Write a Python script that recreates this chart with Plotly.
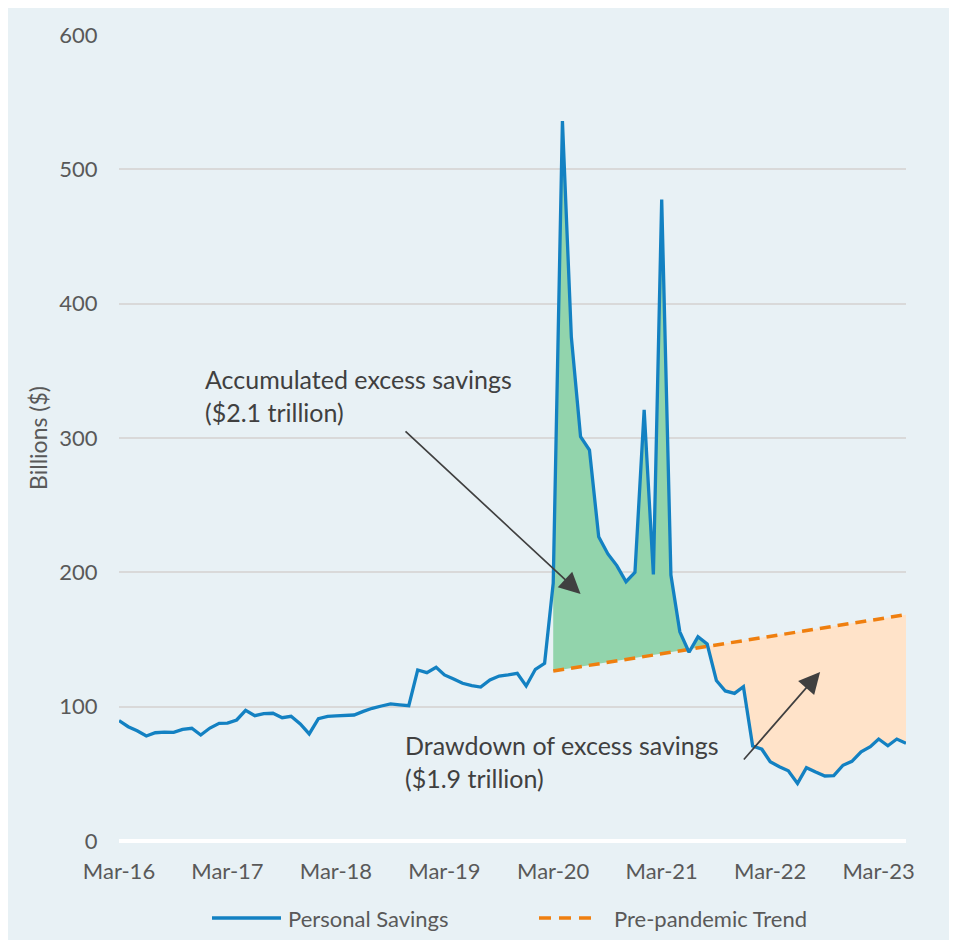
import pandas as pd
import plotly.graph_objects as go

# ---- data ----
months = pd.date_range("2016-03-01", periods=88, freq="MS")

personal_savings = [
    89.6, 85.1, 82.1, 78.2, 80.6, 81.1, 80.9, 83.1, 83.9, 78.9, 84.1, 87.6,
    87.8, 90.1, 97.3, 93.3, 94.8, 95.1, 91.8, 92.8, 87.1, 79.7, 91.1, 92.8,
    93.1, 93.3, 93.8, 96.5, 98.8, 100.5, 102.0, 101.3, 100.7, 127.3, 125.3, 129.3,
    123.6, 120.6, 117.4, 115.6, 114.6, 119.9, 122.8, 123.6, 124.8, 115.4, 127.8, 132.3,
    192.0, 536.0, 375.0, 301.0, 291.0, 226.5, 213.7, 205.0, 193.0, 200.0, 321.0, 198.5,
    477.5, 198.0, 155.7, 140.5, 152.0, 146.6, 119.5, 111.7, 109.9, 114.9, 70.7, 68.3,
    59.0, 55.3, 52.3, 42.9, 54.6, 51.4, 48.4, 48.6, 56.4, 59.3, 66.3, 70.2,
    75.9, 70.9, 75.9, 72.7,
]

trend_dates = ["2020-03-01", "2021-08-01", "2023-06-01"]
trend_values = [126.5, 145.0, 168.5]

tick_dates = ["2016-03-01", "2017-03-01", "2018-03-01", "2019-03-01",
              "2020-03-01", "2021-03-01", "2022-03-01", "2023-03-01"]
tick_labels = ["Mar-16", "Mar-17", "Mar-18", "Mar-19",
               "Mar-20", "Mar-21", "Mar-22", "Mar-23"]

# ---- styles ----
BLUE = "#1381C2"
ORANGE = "#EF7F0F"
GREEN_FILL = "#92D4AC"
PEACH_FILL = "#FFE3C9"
BG = "#E8F1F5"
GRID = "#D9D9D9"
TXT = "#595959"
DARK = "#404040"
FONT = "Lato"

i_start = list(months).index(pd.Timestamp(trend_dates[0]))
i_mid = list(months).index(pd.Timestamp(trend_dates[1]))

fig = go.Figure()

# green area: savings above the trend
fig.add_trace(go.Scatter(x=trend_dates[0:2], y=trend_values[0:2], mode="lines",
                         line=dict(width=0), showlegend=False, hoverinfo="skip"))
fig.add_trace(go.Scatter(x=months[i_start:i_mid + 1], y=personal_savings[i_start:i_mid + 1],
                         mode="lines", line=dict(width=0), fill="tonexty",
                         fillcolor=GREEN_FILL, showlegend=False, hoverinfo="skip"))
# peach area: savings below the trend
fig.add_trace(go.Scatter(x=trend_dates[1:3], y=trend_values[1:3], mode="lines",
                         line=dict(width=0), showlegend=False, hoverinfo="skip"))
fig.add_trace(go.Scatter(x=months[i_mid:], y=personal_savings[i_mid:],
                         mode="lines", line=dict(width=0), fill="tonexty",
                         fillcolor=PEACH_FILL, showlegend=False, hoverinfo="skip"))

fig.add_trace(go.Scatter(x=trend_dates, y=trend_values, mode="lines",
                         name="Pre-pandemic Trend",
                         line=dict(color=ORANGE, width=3.5, dash="11px,7px"),
                         showlegend=False))
fig.add_trace(go.Scatter(x=months, y=personal_savings, mode="lines",
                         name="Personal Savings",
                         line=dict(color=BLUE, width=3.3), showlegend=False))

W, H = 957, 940
OFF = 8  # page offset of the figure inside the browser window
# plot area in screen pixels
SL, SR, ST, SB = 119, 906, 35, 841
L, R, T, B = SL - OFF, SR - OFF, ST - OFF, SB - OFF
pw, ph = R - L, B - T


def px(x):
    return (x - OFF - L) / pw


def py(y):
    return (B - (y - OFF)) / ph


shapes = [
    # custom legend samples
    dict(type="line", xref="paper", yref="paper",
         x0=px(212), x1=px(281), y0=py(918), y1=py(918),
         line=dict(color=BLUE, width=3.5)),
    dict(type="line", xref="paper", yref="paper",
         x0=px(539), x1=px(597), y0=py(918), y1=py(918),
         line=dict(color=ORANGE, width=3.5, dash="12px,8px")),
]

annotations = [
    dict(xref="paper", yref="paper", x=px(286), y=py(918), xanchor="left",
         yanchor="middle", showarrow=False, text="Personal Savings",
         font=dict(family=FONT, size=22, color=TXT)),
    dict(xref="paper", yref="paper", x=px(612), y=py(918), xanchor="left",
         yanchor="middle", showarrow=False, text="Pre-pandemic Trend",
         font=dict(family=FONT, size=22, color=TXT)),
    dict(xref="paper", yref="paper", x=px(203), y=py(396), xanchor="left",
         yanchor="middle", align="left", showarrow=False,
         text="Accumulated excess savings<br>($2.1 trillion)",
         font=dict(family=FONT, size=25, color=DARK)),
    dict(xref="paper", yref="paper", x=px(403), y=py(761), xanchor="left",
         yanchor="middle", align="left", showarrow=False,
         text="Drawdown of excess savings<br>($1.9 trillion)",
         font=dict(family=FONT, size=25, color=DARK)),
    # arrows
    dict(x="2020-06-01", y=183.9, ax="2018-10-16", ay=306, xref="x", yref="y",
         axref="x", ayref="y", text="", showarrow=True, arrowhead=2,
         arrowsize=2.5, arrowwidth=1.7, arrowcolor=DARK),
    dict(x="2022-08-16", y=125.8, ax="2021-11-28", ay=59.6, xref="x", yref="y",
         axref="x", ayref="y", text="", showarrow=True, arrowhead=2,
         arrowsize=2.5, arrowwidth=1.7, arrowcolor=DARK),
]

fig.update_layout(
    width=W, height=H,
    margin=dict(l=L, r=W - R, t=T, b=H - B, autoexpand=False),
    paper_bgcolor=BG,
    plot_bgcolor=BG,
    font=dict(family=FONT, color=TXT, size=22),
    showlegend=False,
    shapes=shapes,
    annotations=annotations,
    xaxis=dict(type="date", range=["2016-03-01", "2023-06-01"],
               tickvals=tick_dates, ticktext=tick_labels,
               showgrid=False, zeroline=False, showline=False,
               ticks="outside", ticklen=11, tickcolor="rgba(0,0,0,0)",
               tickfont=dict(family=FONT, size=22, color=TXT)),
    yaxis=dict(range=[0, 600], dtick=100, showgrid=True, gridcolor=GRID,
               gridwidth=1.5, zeroline=True, zerolinecolor="white",
               zerolinewidth=3.5, showline=False,
               ticks="outside", ticklen=16, tickcolor="rgba(0,0,0,0)",
               tickfont=dict(family=FONT, size=22, color=TXT),
               title=dict(text="Billions ($)", standoff=5,
                          font=dict(family=FONT, size=23, color=TXT))),
)

fig.write_html("out.html")
